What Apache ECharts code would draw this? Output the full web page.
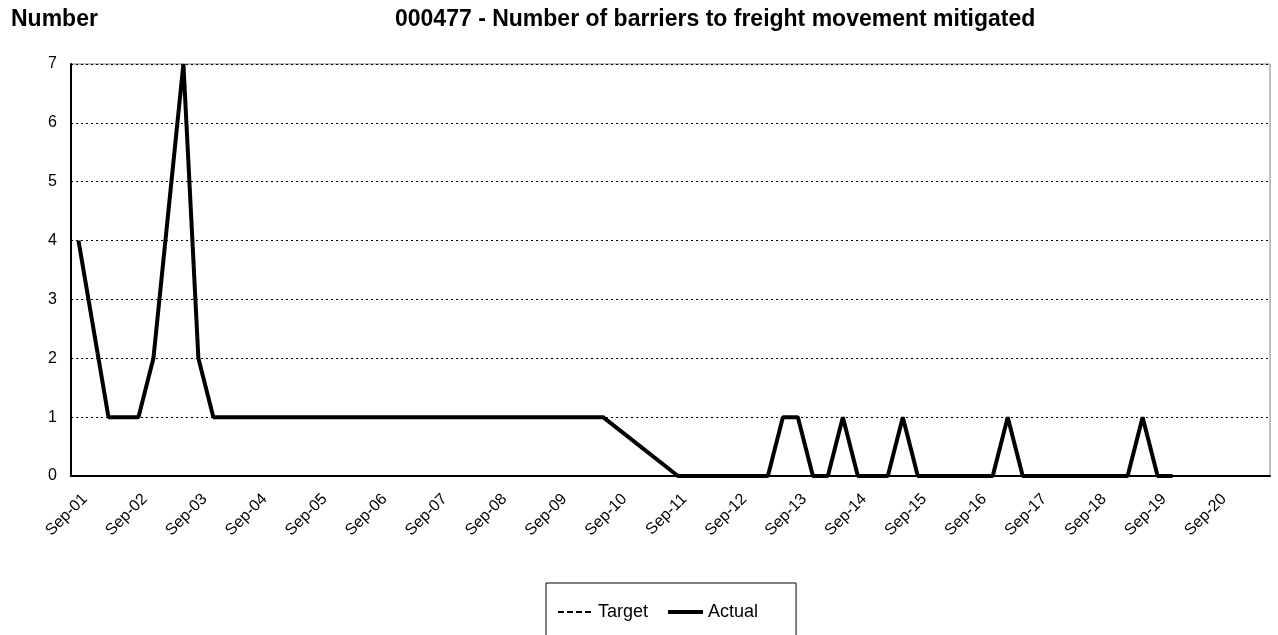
<!DOCTYPE html>
<html>
<head>
<meta charset="utf-8">
<script src="https://cdn.jsdelivr.net/npm/echarts@6/dist/echarts.min.js"></script>
<style>
  html, body { margin: 0; padding: 0; background: #fff; }
  #chart { width: 1278px; height: 635px; }
</style>
</head>
<body>
<div id="chart"></div>
<script>
// quarterly categories, one label per year (Sep)
const categories = [
  'Sep-01', 'Dec-01', 'Mar-02', 'Jun-02',
  'Sep-02', 'Dec-02', 'Mar-03', 'Jun-03',
  'Sep-03', 'Dec-03', 'Mar-04', 'Jun-04',
  'Sep-04', 'Dec-04', 'Mar-05', 'Jun-05',
  'Sep-05', 'Dec-05', 'Mar-06', 'Jun-06',
  'Sep-06', 'Dec-06', 'Mar-07', 'Jun-07',
  'Sep-07', 'Dec-07', 'Mar-08', 'Jun-08',
  'Sep-08', 'Dec-08', 'Mar-09', 'Jun-09',
  'Sep-09', 'Dec-09', 'Mar-10', 'Jun-10',
  'Sep-10', 'Dec-10', 'Mar-11', 'Jun-11',
  'Sep-11', 'Dec-11', 'Mar-12', 'Jun-12',
  'Sep-12', 'Dec-12', 'Mar-13', 'Jun-13',
  'Sep-13', 'Dec-13', 'Mar-14', 'Jun-14',
  'Sep-14', 'Dec-14', 'Mar-15', 'Jun-15',
  'Sep-15', 'Dec-15', 'Mar-16', 'Jun-16',
  'Sep-16', 'Dec-16', 'Mar-17', 'Jun-17',
  'Sep-17', 'Dec-17', 'Mar-18', 'Jun-18',
  'Sep-18', 'Dec-18', 'Mar-19', 'Jun-19',
  'Sep-19', 'Dec-19', 'Mar-20', 'Jun-20',
  'Sep-20', 'Dec-20', 'Mar-21', 'Jun-21'
];

const actual = [
  4, null, 1, 1,
  1, 2, null, 7,
  2, 1, 1, 1,
  1, 1, 1, 1,
  1, 1, 1, 1,
  1, 1, 1, 1,
  1, 1, 1, 1,
  1, 1, 1, 1,
  1, 1, 1, 1,
  null, null, null, null,
  0, 0, 0, 0,
  0, 0, 0, 1,
  1, 0, 0, 1,
  0, 0, 0, 1,
  0, 0, 0, 0,
  0, 0, 1, 0,
  0, 0, 0, 0,
  0, 0, 0, 1,
  0, 0
];

const target = [];

const yTicks = [0, 1, 2, 3, 4, 5, 6, 7];

let myChart = echarts.init(document.getElementById('chart'));
myChart.setOption({
  animation: false,
  textStyle: { fontFamily: 'Liberation Sans, Arial, sans-serif', color: '#000' },
  title: [
    {
      text: 'Number',
      left: 11,
      top: 8,
      padding: 0,
      textStyle: { fontSize: 23, fontWeight: 'bold', color: '#000' }
    },
    {
      text: '000477 - Number of barriers to freight movement mitigated',
      left: 395,
      top: 8,
      padding: 0,
      textStyle: { fontSize: 23, fontWeight: 'bold', color: '#000' }
    }
  ],
  grid: {
    left: 71,
    right: 8,
    top: 64,
    bottom: 159,
    show: true,
    borderColor: '#808080',
    borderWidth: 1
  },
  legend: {
    left: 546,
    top: 583,
    padding: [20, 38, 40, 11],
    borderColor: '#000',
    borderWidth: 1,
    borderRadius: 0,
    itemWidth: 35,
    itemHeight: 14,
    itemGap: 18,
    itemStyle: { opacity: 0 },
    textStyle: { fontSize: 18, color: '#000' },
    data: [
      { name: 'Target', lineStyle: { width: 2 } },
      { name: 'Actual', lineStyle: { width: 4 } }
    ]
  },
  xAxis: {
    type: 'category',
    data: categories,
    boundaryGap: true,
    axisLine: { show: true, lineStyle: { color: '#000', width: 2 } },
    axisTick: { show: false },
    axisLabel: {
      interval: 3,
      rotate: 45,
      margin: 27,
      padding: [0, -9, 0, 0],
      fontSize: 16,
      color: '#000'
    },
    splitLine: { show: false }
  },
  yAxis: {
    type: 'value',
    min: yTicks[0],
    max: yTicks[yTicks.length - 1],
    interval: 1,
    axisLine: { show: true, lineStyle: { color: '#000', width: 2 } },
    axisTick: { show: false },
    axisLabel: { fontSize: 16, color: '#000', margin: 14 },
    splitLine: { show: true, lineStyle: { color: '#000', type: [2, 3], width: 1 } }
  },
  series: [
    {
      name: 'Target',
      type: 'line',
      data: target,
      symbol: 'none',
      lineStyle: { color: '#000', width: 2, type: [6, 3] },
      itemStyle: { color: '#000' }
    },
    {
      name: 'Actual',
      type: 'line',
      data: actual,
      symbol: 'none',
      connectNulls: true,
      lineStyle: { color: '#000', width: 4 },
      itemStyle: { color: '#000' }
    }
  ]
});
</script>
</body>
</html>
